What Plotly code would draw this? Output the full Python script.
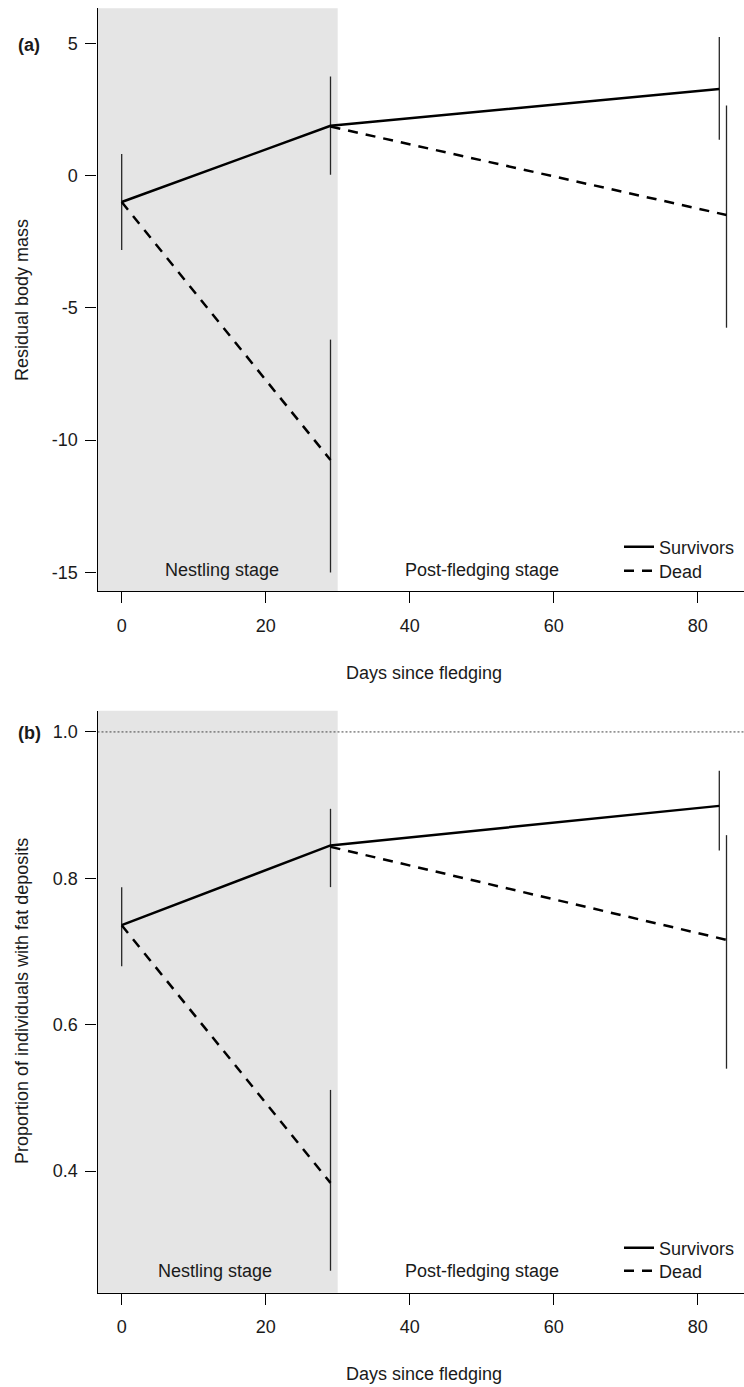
import plotly.graph_objects as go

# ---- data -------------------------------------------------------------
days_surv = [0, 29, 83]
days_dead_nest = [0, 29]
days_dead_post = [29, 84]

# (a) residual body mass
mass_surv = [-1.0, 1.88, 3.27]
mass_surv_lo = [-2.81, 0.03, 1.35]
mass_surv_hi = [0.81, 3.74, 5.24]
mass_dead_nest = [-1.0, -10.75]
mass_dead_nest_lo = [None, -15.0]
mass_dead_nest_hi = [None, -6.2]
mass_dead_post = [1.85, -1.49]
mass_dead_post_lo = [None, -5.75]
mass_dead_post_hi = [None, 2.65]

# (b) proportion with fat deposits
fat_surv = [0.736, 0.845, 0.899]
fat_surv_lo = [0.680, 0.788, 0.838]
fat_surv_hi = [0.788, 0.895, 0.947]
fat_dead_nest = [0.736, 0.384]
fat_dead_nest_lo = [None, 0.264]
fat_dead_nest_hi = [None, 0.511]
fat_dead_post = [0.843, 0.716]
fat_dead_post_lo = [None, 0.540]
fat_dead_post_hi = [None, 0.859]

x_ticks = [0, 20, 40, 60, 80]
mass_ticks = [-15, -10, -5, 0, 5]
mass_tick_text = ["-15", "-10", "-5", "0", "5"]
fat_ticks = [0.4, 0.6, 0.8, 1.0]
fat_tick_text = ["0.4", "0.6", "0.8", "1.0"]

nestling_end = 30

# ---- page geometry ------------------------------------------------------
W, H = 744, 1387
FONT = "Liberation Sans, Arial, sans-serif"
FS = 18
TXT = "#1a1a1a"
XRANGE = [-3.36, 86.43]


def px(x):
    return x / W


def py(y):
    return 1 - y / H


def err(mean, lo, hi):
    plus = [0 if h is None else h - m for m, h in zip(mean, hi)]
    minus = [0 if l is None else m - l for m, l in zip(mean, lo)]
    return dict(type="data", array=plus, arrayminus=minus, symmetric=False,
                width=0, thickness=1.3, color="#262626")


fig = go.Figure()

panels = [
    dict(xa="x", ya="y", legs=("legend", "legend2"),
         surv=(mass_surv, mass_surv_lo, mass_surv_hi),
         nest=(mass_dead_nest, mass_dead_nest_lo, mass_dead_nest_hi),
         post=(mass_dead_post, mass_dead_post_lo, mass_dead_post_hi)),
    dict(xa="x2", ya="y2", legs=("legend3", "legend4"),
         surv=(fat_surv, fat_surv_lo, fat_surv_hi),
         nest=(fat_dead_nest, fat_dead_nest_lo, fat_dead_nest_hi),
         post=(fat_dead_post, fat_dead_post_lo, fat_dead_post_hi)),
]

DASH = "10px,8px"
for p in panels:
    m, lo, hi = p["surv"]
    fig.add_trace(go.Scatter(
        x=days_surv, y=m, mode="lines", name="Survivors",
        line=dict(color="black", width=2.5), error_y=err(m, lo, hi),
        xaxis=p["xa"], yaxis=p["ya"], legend=p["legs"][0], showlegend=True))
    m, lo, hi = p["nest"]
    fig.add_trace(go.Scatter(
        x=days_dead_nest, y=m, mode="lines", name="Dead",
        line=dict(color="black", width=2.5, dash=DASH),
        error_y=err(m, lo, hi),
        xaxis=p["xa"], yaxis=p["ya"], legend=p["legs"][1], showlegend=True))
    m, lo, hi = p["post"]
    fig.add_trace(go.Scatter(
        x=days_dead_post, y=m, mode="lines", name="Dead",
        line=dict(color="black", width=2.5, dash=DASH),
        error_y=err(m, lo, hi),
        xaxis=p["xa"], yaxis=p["ya"], showlegend=False))

# nestling-stage shading
for xa, ya in [("x", "y"), ("x2", "y2")]:
    fig.add_shape(type="rect", xref=xa, yref=f"{ya} domain",
                  x0=XRANGE[0], x1=nestling_end, y0=0, y1=1,
                  fillcolor="#e5e5e5", line_width=0, layer="below")

# reference line at proportion 1
fig.add_shape(type="line", xref="x2", yref="y2", x0=XRANGE[0], x1=XRANGE[1],
              y0=1.0, y1=1.0, line=dict(color="#444", width=1, dash="2px,2px"),
              layer="below")

axis_common = dict(showline=True, linecolor="black", linewidth=1.3,
                   ticks="outside", ticklen=11, tickwidth=1.3, tickcolor="black",
                   showgrid=False, zeroline=False, mirror=False,
                   tickfont=dict(family=FONT, size=FS, color=TXT))

dom_x = [px(97.5), 1.0]


def leg(x, y):
    return dict(x=px(x), y=py(y), xanchor="left", yanchor="middle",
                bgcolor="rgba(0,0,0,0)", font=dict(family=FONT, size=FS, color=TXT),
                itemwidth=30)


fig.update_layout(
    width=W, height=H, margin=dict(l=0, r=0, t=0, b=0),
    paper_bgcolor="white", plot_bgcolor="white",
    font=dict(family=FONT, size=FS, color=TXT),
    xaxis=dict(domain=dom_x, range=XRANGE, tickvals=x_ticks, anchor="y",
               ticklabelstandoff=7, **axis_common),
    yaxis=dict(domain=[py(591), py(8.3)], range=[-15.70, 6.32], anchor="x",
               tickvals=mass_ticks, ticktext=mass_tick_text,
               ticklabelstandoff=4, **axis_common),
    xaxis2=dict(domain=dom_x, range=XRANGE, tickvals=x_ticks, anchor="y2",
                ticklabelstandoff=7, **axis_common),
    yaxis2=dict(domain=[py(1292.7), py(710.7)], range=[0.234, 1.029], anchor="x2",
                tickvals=fat_ticks, ticktext=fat_tick_text,
                ticklabelstandoff=4, **axis_common),
    legend=leg(619, 547),
    legend2=leg(619, 571),
    legend3=leg(619, 1248),
    legend4=leg(619, 1271),
)

ann = []
# panel tags
ann.append(dict(text="<b>(a)</b>", x=px(16), y=py(45), xanchor="left", yanchor="middle"))
ann.append(dict(text="<b>(b)</b>", x=px(16), y=py(733), xanchor="left", yanchor="middle"))
# axis titles
ann.append(dict(text="Residual body mass", x=px(22), y=py(300), textangle=-90,
                xanchor="center", yanchor="middle"))
ann.append(dict(text="Proportion of individuals with fat deposits", x=px(22),
                y=py(1001), textangle=-90, xanchor="center", yanchor="middle"))
ann.append(dict(text="Days since fledging", x=px(424), y=py(673),
                xanchor="center", yanchor="middle"))
ann.append(dict(text="Days since fledging", x=px(424), y=py(1374),
                xanchor="center", yanchor="middle"))
for a in ann:
    a.update(xref="paper", yref="paper", showarrow=False,
             font=dict(family=FONT, size=FS, color=TXT))

# stage labels inside each panel
stage = [
    dict(text="Nestling stage", x=14, y=-14.9, xref="x", yref="y"),
    dict(text="Post-fledging stage", x=50, y=-14.9, xref="x", yref="y"),
    dict(text="Nestling stage", x=13, y=0.264, xref="x2", yref="y2"),
    dict(text="Post-fledging stage", x=50, y=0.264, xref="x2", yref="y2"),
]
for a in stage:
    a.update(showarrow=False, xanchor="center", yanchor="middle",
             font=dict(family=FONT, size=FS, color=TXT))
    ann.append(a)

fig.update_layout(annotations=ann)
fig.write_html("out.html")
